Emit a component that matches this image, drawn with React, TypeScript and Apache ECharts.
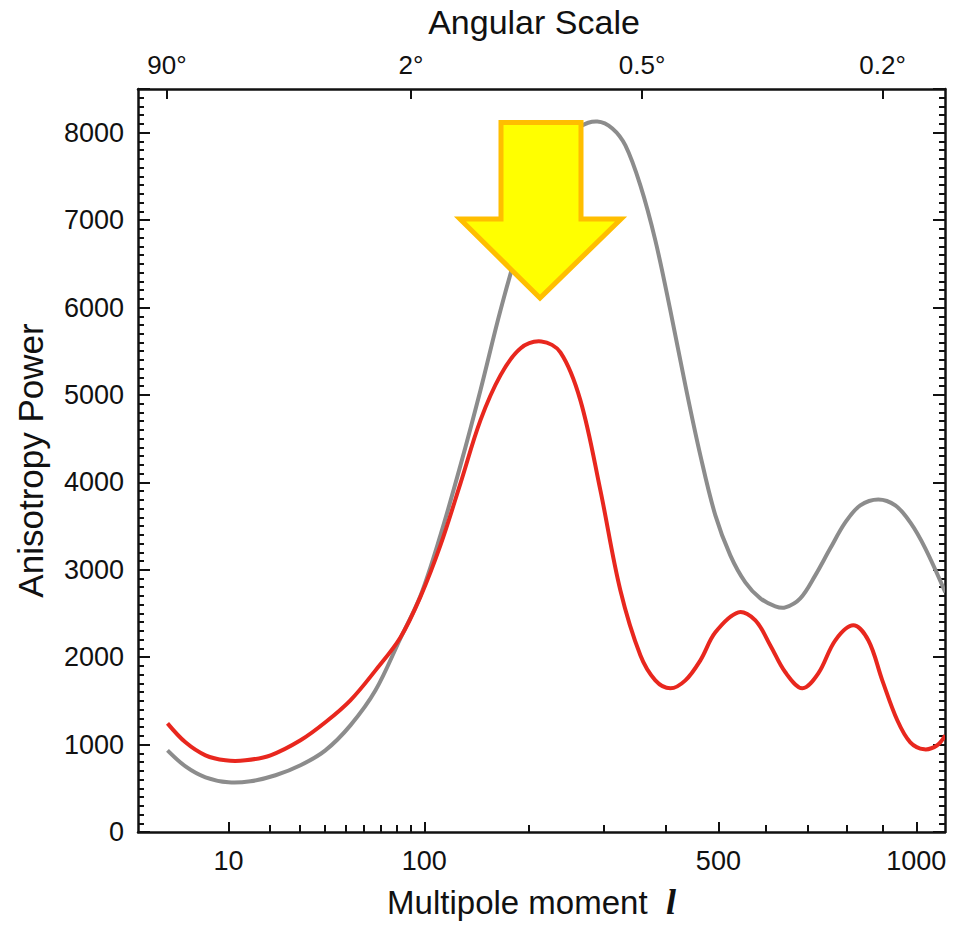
import React, { useEffect, useRef } from "react";
import * as echarts from "echarts";

// Multipole moment l and anisotropy power for the two spectra.
const totalL = [2.04, 3.65, 6.14, 10.0, 14.8, 21.7, 30.2, 40.4, 52.5, 66.6, 82.6, 97.0, 112.8, 130.1, 148.8, 169.1, 190.9, 214.4, 239.5, 266.3, 290.4, 312.7, 332.9, 357.1, 382.3, 408.6, 436.0, 464.4, 493.9, 524.4, 556.1, 589.0, 622.9, 646.2, 682.0, 719.0, 757.3, 796.7, 837.3, 887.7, 936.9, 981.6, 1027.6, 1090.9];
const totalPower = [934, 751, 626, 568, 580, 649, 763, 934, 1220, 1621, 2215, 2700, 3394, 4194, 5052, 5967, 6768, 7454, 7854, 8072, 8129, 8049, 7854, 7397, 6768, 5967, 5109, 4309, 3622, 3165, 2856, 2673, 2582, 2570, 2673, 2936, 3245, 3542, 3737, 3805, 3737, 3542, 3245, 2742];

const observedL = [2.04, 3.65, 6.14, 9.43, 13.6, 20.2, 30.2, 40.4, 52.5, 66.6, 82.6, 97.0, 112.8, 130.1, 148.8, 169.1, 190.9, 215.6, 239.5, 266.3, 294.8, 325.0, 357.1, 382.3, 408.6, 436.0, 464.4, 493.9, 541.3, 578.0, 611.5, 646.2, 686.9, 726.6, 770.3, 818.2, 859.5, 899.1, 942.8, 981.6, 1024.5, 1065.2, 1090.9];
const observedPower = [1243, 1026, 877, 820, 820, 877, 1049, 1255, 1506, 1849, 2225, 2690, 3279, 3988, 4709, 5224, 5532, 5612, 5487, 4938, 3908, 2765, 2021, 1735, 1644, 1735, 1964, 2284, 2513, 2421, 2135, 1827, 1644, 1815, 2193, 2364, 2193, 1735, 1278, 1026, 946, 992, 1106];

// Axis ticks
const multipoleTicks = [10, 100, 500, 1000];
const multipoleMinorTicks = [20, 30, 40, 50, 60, 70, 80, 90, 200, 300, 400, 600, 700, 800, 900];
const angularTicksDeg = [90, 2, 0.5, 0.2];
const multipoleRange = [0.5, 1090];
const powerMax = 8500;

// The multipole axis is drawn on an l^0.4 scale.
const EXP = 0.4;
const toAxis = (l: number) => Math.pow(l, EXP);
const fromAxis = (v: number) => Math.pow(v, 1 / EXP);

const FONT = "'Liberation Sans', Arial, Helvetica, sans-serif";
const BLACK = "#111111";

// A spectrum drawn as one smooth curve through its points, placed with the grid's scales.
function spectrumSeries(name: string, ls: number[], values: number[], color: string, z: number) {
  const data = ls.map((l, i) => [toAxis(l), values[i]]);
  return {
    type: "custom" as const,
    name,
    coordinateSystem: "cartesian2d",
    xAxisIndex: 0,
    yAxisIndex: 0,
    z,
    clip: true,
    data,
    renderItem: (params: any, api: any) => {
      if (params.dataIndex !== 0) return null;
      return {
        type: "polyline",
        shape: { points: data.map((d) => api.coord(d)), smooth: 0.35 },
        style: { stroke: color, lineWidth: 4, fill: "none" },
      };
    },
  };
}

export default function App() {
  const ref = useRef<HTMLDivElement>(null);

  useEffect(() => {
    if (!ref.current) return;
    const chart = echarts.init(ref.current, undefined, { renderer: "svg" });

    const xMin = toAxis(multipoleRange[0]);
    const xMax = toAxis(multipoleRange[1]);
    const axisLine = { show: true, onZero: false, lineStyle: { color: BLACK, width: 2.5 } };
    const noLine = { show: false, onZero: false };

    const option: any = {
      animation: false,
      backgroundColor: "#ffffff",
      textStyle: { fontFamily: FONT, color: BLACK },
      grid: { left: 138, right: 8, top: 88, bottom: 93, containLabel: false },
      xAxis: [
        {
          type: "value",
          position: "bottom",
          min: xMin,
          max: xMax,
          axisLine,
          splitLine: { show: false },
          axisTick: {
            show: true,
            inside: true,
            length: 10,
            lineStyle: { color: BLACK, width: 2 },
            customValues: multipoleTicks.map(toAxis),
          },
          axisLabel: {
            show: true,
            fontSize: 27,
            color: BLACK,
            margin: 15,
            customValues: multipoleTicks.map(toAxis),
            formatter: (v: number) => String(Math.round(fromAxis(v))),
          },
          name: "Multipole moment  {l|l}",
          nameLocation: "middle",
          nameGap: 52,
          nameTextStyle: {
            fontSize: 33,
            color: BLACK,
            fontFamily: FONT,
            padding: [0, 20, 0, 0],
            rich: {
              l: {
                fontSize: 36,
                fontFamily: "'Liberation Serif', 'DejaVu Serif', serif",
                fontStyle: "italic",
                fontWeight: "bold",
                color: BLACK,
              },
            },
          },
        },
        {
          type: "value",
          position: "bottom",
          min: xMin,
          max: xMax,
          axisLine: noLine,
          splitLine: { show: false },
          axisLabel: { show: false },
          axisTick: {
            show: true,
            inside: true,
            length: 7,
            lineStyle: { color: BLACK, width: 2 },
            customValues: multipoleMinorTicks.map(toAxis),
          },
        },
        {
          type: "value",
          position: "top",
          min: xMin,
          max: xMax,
          axisLine,
          splitLine: { show: false },
          axisTick: {
            show: true,
            inside: true,
            length: 10,
            lineStyle: { color: BLACK, width: 2 },
            customValues: angularTicksDeg.map((d) => toAxis(180 / d)),
          },
          axisLabel: {
            show: true,
            fontSize: 26,
            color: BLACK,
            margin: 11,
            customValues: angularTicksDeg.map((d) => toAxis(180 / d)),
            formatter: (v: number) => `${parseFloat((180 / fromAxis(v)).toFixed(1))}°`,
          },
          name: "Angular Scale",
          nameLocation: "middle",
          nameGap: 50,
          nameTextStyle: { fontSize: 34, color: BLACK, padding: [0, 15, 0, 0] },
        },
      ],
      yAxis: [
        {
          type: "value",
          position: "left",
          min: 0,
          max: powerMax,
          interval: 1000,
          axisLine,
          splitLine: { show: false },
          axisTick: { show: true, inside: true, length: 12, lineStyle: { color: BLACK, width: 2 } },
          axisLabel: {
            show: true,
            fontSize: 27,
            color: BLACK,
            margin: 14,
            formatter: (v: number) => (v % 1000 === 0 ? String(v) : ""),
          },
          name: "Anisotropy Power",
          nameLocation: "middle",
          nameGap: 90,
          nameTextStyle: { fontSize: 35, color: BLACK },
        },
        {
          type: "value",
          position: "left",
          min: 0,
          max: powerMax,
          interval: 100,
          axisLine: noLine,
          splitLine: { show: false },
          axisLabel: { show: false },
          axisTick: { show: true, inside: true, length: 6, lineStyle: { color: BLACK, width: 2 } },
        },
        {
          type: "value",
          position: "right",
          min: 0,
          max: powerMax,
          interval: 1000,
          axisLine,
          splitLine: { show: false },
          axisLabel: { show: false },
          axisTick: { show: true, inside: true, length: 12, lineStyle: { color: BLACK, width: 2 } },
        },
        {
          type: "value",
          position: "right",
          min: 0,
          max: powerMax,
          interval: 100,
          axisLine: noLine,
          splitLine: { show: false },
          axisLabel: { show: false },
          axisTick: { show: true, inside: true, length: 6, lineStyle: { color: BLACK, width: 2 } },
        },
      ],
      series: [
        spectrumSeries("total", totalL, totalPower, "#8c8c8c", 2),
        spectrumSeries("observed", observedL, observedPower, "#e8271e", 3),
      ],
      graphic: [
        {
          type: "polygon",
          z: 100,
          shape: {
            points: [
              [501, 122.5],
              [581, 122.5],
              [581, 219],
              [621, 219],
              [540, 298],
              [460, 219],
              [501, 219],
            ],
          },
          style: { fill: "#ffff00", stroke: "#ffbe00", lineWidth: 5, lineJoin: "miter" },
        },
      ],
    };

    chart.setOption(option);
    return () => chart.dispose();
  }, []);

  return (
    <div
      ref={ref}
      style={{ position: "absolute", left: 0, top: 0, width: 953, height: 925, background: "#ffffff" }}
    />
  );
}
